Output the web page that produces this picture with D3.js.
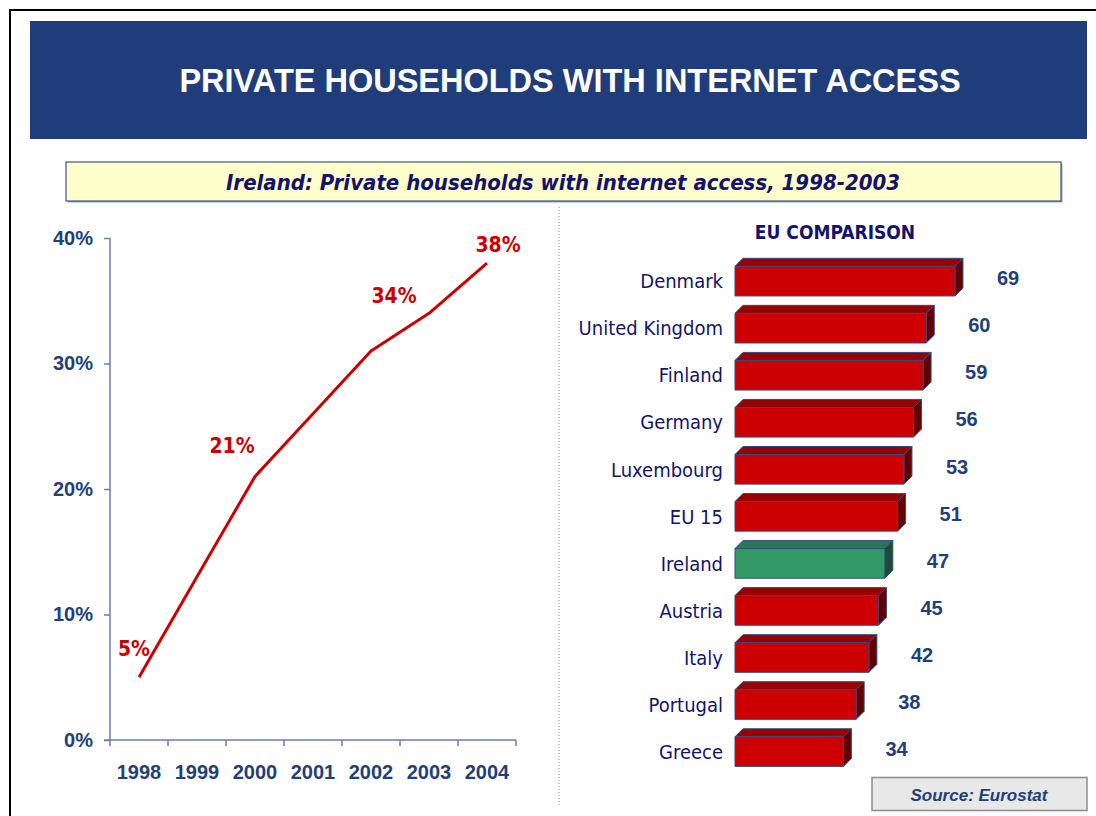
<!DOCTYPE html>
<html>
<head>
<meta charset="utf-8">
<script src="https://cdn.jsdelivr.net/npm/d3@7"></script>
<style>
  html, body { margin: 0; padding: 0; background: #ffffff; }
  svg { display: block; }
</style>
</head>
<body>
<svg id="chart" width="1096" height="816"></svg>
<script>
// Ireland: households with internet access (%), by year
const years = [1998, 1999, 2000, 2001, 2002, 2003, 2004];
const irelandShare = [5, 13, 21, 26, 31, 34, 38];
const labelledYears = [1998, 2000, 2003, 2004];
const yTicks = [0, 10, 20, 30, 40];

// EU comparison (%)
const countries = ["Denmark", "United Kingdom", "Finland", "Germany", "Luxembourg",
  "EU 15", "Ireland", "Austria", "Italy", "Portugal", "Greece"];
const countryValues = [69, 60, 59, 56, 53, 51, 47, 45, 42, 38, 34];
const highlightCountry = "Ireland";

const NAVY = "#1f3d7a";
const TEXT_NAVY = "#13136b";
const RED = "#cc0000";
const LABEL_FONT = "'DejaVu Sans Condensed', 'DejaVu Sans', sans-serif";
const ARIAL = "'Liberation Sans', Arial, sans-serif";

const svg = d3.select("#chart");

// page frame
svg.append("rect").attr("x", 10).attr("y", 10).attr("width", 1100).attr("height", 820)
  .attr("fill", "none").attr("stroke", "#000").attr("stroke-width", 2);

// title banner
svg.append("rect").attr("x", 30).attr("y", 21).attr("width", 1057).attr("height", 118)
  .attr("fill", NAVY);
svg.append("text").attr("x", 570).attr("y", 91.5)
  .attr("text-anchor", "middle").attr("fill", "#fff")
  .style("font-family", ARIAL).style("font-weight", "bold").style("font-size", "32.5px")
  .text("PRIVATE HOUSEHOLDS WITH INTERNET ACCESS");

// subtitle box
svg.append("rect").attr("x", 67.5).attr("y", 163.5).attr("width", 995).attr("height", 39)
  .attr("fill", "#9aa3b8");
svg.append("rect").attr("x", 66).attr("y", 162).attr("width", 995).attr("height", 39)
  .attr("fill", "#ffffcc").attr("stroke", "#3a5588").attr("stroke-width", 1.2);
svg.append("text").attr("x", 563).attr("y", 189.5)
  .attr("text-anchor", "middle").attr("fill", TEXT_NAVY)
  .style("font-family", LABEL_FONT).style("font-weight", "bold").style("font-style", "italic")
  .style("font-size", "22px")
  .text("Ireland: Private households with internet access, 1998-2003");

// divider between the two panels
svg.append("line").attr("x1", 559).attr("x2", 559).attr("y1", 207).attr("y2", 806)
  .attr("stroke", "#7f8fb8").attr("stroke-width", 1).attr("stroke-dasharray", "1,2");

// ---------- line chart ----------
const x = d3.scaleBand().domain(years).range([110, 516]).padding(0);
const y = d3.scaleLinear().domain([0, 40]).range([740, 238]);
const AXIS = "#6a7db0";
const AXIS_TEXT = "#213f7a";

const yAxis = svg.append("g").attr("transform", "translate(110,0)")
  .call(d3.axisLeft(y).tickValues(yTicks).tickSize(6).tickPadding(11)
    .tickFormat(d => d + "%"));
yAxis.select(".domain").attr("stroke", AXIS).attr("stroke-width", 1.5).attr("d", "M0,238V740");
yAxis.selectAll(".tick line").attr("stroke", AXIS).attr("stroke-width", 1.5);
yAxis.selectAll(".tick text").attr("fill", AXIS_TEXT)
  .style("font-family", ARIAL).style("font-weight", "bold").style("font-size", "20px");

// category axis: ticks sit on the band boundaries, labels in the band centres
const xAxis = svg.append("g").attr("transform", "translate(0,740)");
xAxis.append("line").attr("x1", 104).attr("x2", x.range()[1])
  .attr("stroke", AXIS).attr("stroke-width", 1.5);
const bounds = years.map(d => x(d)).concat([x.range()[1]]);
xAxis.selectAll("line.tick").data(bounds).join("line").attr("class", "tick")
  .attr("x1", d => d).attr("x2", d => d).attr("y1", 0).attr("y2", 6)
  .attr("stroke", AXIS).attr("stroke-width", 1.5);
xAxis.selectAll("text").data(years).join("text")
  .attr("x", d => x(d) + x.bandwidth() / 2).attr("y", 39)
  .attr("text-anchor", "middle").attr("fill", AXIS_TEXT)
  .style("font-family", ARIAL).style("font-weight", "bold").style("font-size", "20px")
  .text(d => d);

const pts = years.map((yr, i) => ({ year: yr, value: irelandShare[i] }));
const line = d3.line().x(d => x(d.year) + x.bandwidth() / 2).y(d => y(d.value));
svg.append("path").datum(pts).attr("d", line)
  .attr("fill", "none").attr("stroke", RED).attr("stroke-width", 3)
  .attr("stroke-linejoin", "round");

// value call-outs, nudged off the line
const calloutOffset = { 1998: [-5, -29], 2000: [-23, -31], 2003: [-35, -18], 2004: [11, -19] };
svg.selectAll("text.callout").data(pts.filter(d => labelledYears.includes(d.year)))
  .join("text").attr("class", "callout")
  .attr("x", d => x(d.year) + x.bandwidth() / 2 + calloutOffset[d.year][0])
  .attr("y", d => y(d.value) + calloutOffset[d.year][1])
  .attr("dy", "0.36em").attr("text-anchor", "middle").attr("fill", RED)
  .style("font-family", LABEL_FONT).style("font-weight", "bold").style("font-size", "21px")
  .text(d => d.value + "%");

// ---------- EU comparison bars ----------
svg.append("text").attr("x", 835).attr("y", 239).attr("text-anchor", "middle")
  .attr("fill", TEXT_NAVY)
  .style("font-family", LABEL_FONT).style("font-weight", "bold").style("font-size", "19px")
  .text("EU COMPARISON");

const xb = d3.scaleLinear().domain([0, 80]).range([735, 990]);
const yb = d3.scaleBand().domain(countries).range([253.6, 771.1])
  .paddingInner(0.2).paddingOuter(0.1);
const depth = 8;
const bars = countries.map((c, i) => ({ name: c, value: countryValues[i] }));
const faceColours = d => d.name === highlightCountry
  ? { front: "#339966", top: "#2b7750", side: "#1f4a33" }
  : { front: RED, top: "#990000", side: "#660000" };

const g = svg.append("g").selectAll("g").data(bars).join("g");
g.each(function (d) {
  const sel = d3.select(this);
  const x0 = xb(0), x1 = xb(d.value);
  const yf = yb(d.name) + depth, h = yb.bandwidth() - depth;
  const c = faceColours(d);
  const stroke = { stroke: "#2f4c86", "stroke-width": 1, "stroke-linejoin": "round" };
  const top = sel.append("path")
    .attr("d", `M${x0},${yf}L${x0 + depth},${yf - depth}L${x1 + depth},${yf - depth}L${x1},${yf}Z`)
    .attr("fill", c.top);
  const side = sel.append("path")
    .attr("d", `M${x1},${yf}L${x1 + depth},${yf - depth}L${x1 + depth},${yf - depth + h}L${x1},${yf + h}Z`)
    .attr("fill", c.side);
  const front = sel.append("rect").attr("x", x0).attr("y", yf)
    .attr("width", x1 - x0).attr("height", h).attr("fill", c.front);
  [top, side, front].forEach(s => Object.entries(stroke).forEach(([k, v]) => s.attr(k, v)));
});

// country names
svg.selectAll("text.country").data(bars).join("text").attr("class", "country")
  .attr("x", 723).attr("y", d => yb(d.name) + depth + (yb.bandwidth() - depth) / 2)
  .attr("dy", "0.36em").attr("text-anchor", "end").attr("fill", TEXT_NAVY)
  .style("font-family", LABEL_FONT).style("font-size", "20px")
  .text(d => d.name);

// values
svg.selectAll("text.value").data(bars).join("text").attr("class", "value")
  .attr("x", d => xb(d.value) + 42).attr("y", d => yb(d.name) + yb.bandwidth() / 2 + 1)
  .attr("dy", "0.36em").attr("fill", AXIS_TEXT)
  .style("font-family", ARIAL).style("font-weight", "bold").style("font-size", "20px")
  .text(d => d.value);

// source note
svg.append("rect").attr("x", 872).attr("y", 777.5).attr("width", 215).attr("height", 33)
  .attr("fill", "#e8e8e8").attr("stroke", "#8c8c8c").attr("stroke-width", 1.5);
svg.append("text").attr("x", 979).attr("y", 800.5).attr("text-anchor", "middle")
  .attr("fill", AXIS_TEXT)
  .style("font-family", ARIAL).style("font-weight", "bold").style("font-style", "italic")
  .style("font-size", "17px")
  .text("Source: Eurostat");
</script>
</body>
</html>
